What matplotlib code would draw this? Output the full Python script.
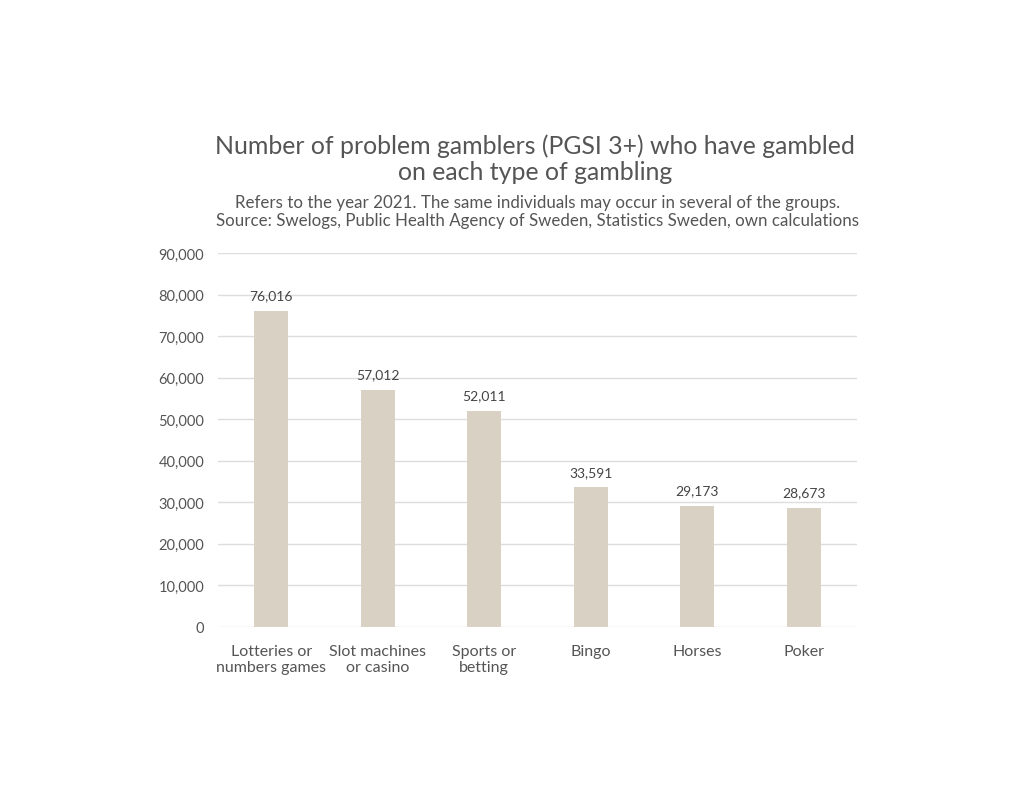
import matplotlib
matplotlib.use("Agg")
import matplotlib.pyplot as plt
from matplotlib.ticker import FuncFormatter

categories = ["Lotteries or\nnumbers games", "Slot machines\nor casino", "Sports or\nbetting",
              "Bingo", "Horses", "Poker"]
values = [76016, 57012, 52011, 33591, 29173, 28673]
yticks = [0, 10000, 20000, 30000, 40000, 50000, 60000, 70000, 80000, 90000]

title = "Number of problem gamblers (PGSI 3+) who have gambled\non each type of gambling"
subtitle = ("Refers to the year 2021. The same individuals may occur in several of the groups.\n"
            "Source: Swelogs, Public Health Agency of Sweden, Statistics Sweden, own calculations")

plt.rcParams['font.family'] = ['Lato', 'DejaVu Sans']
txt = "#555555"

fig = plt.figure(figsize=(10.24, 8.04), dpi=100)
ax = fig.add_axes([218/1024, 1-628/804, (857-218)/1024, (628-254)/804])

x = list(range(len(categories)))
ax.bar(x, values, width=0.32, color="#d9d1c4", zorder=3)
for xi, v in zip(x, values):
    ax.annotate(f"{v:,}", (xi, v), xytext=(0, 7), textcoords="offset points",
                ha="center", va="bottom", fontsize=10, color="#444444")

ax.set_xlim(-0.5, len(categories) - 0.5)
ax.set_ylim(0, 90000)
ax.set_yticks(yticks)
ax.yaxis.set_major_formatter(FuncFormatter(lambda v, p: f"{int(v):,}"))
ax.set_xticks(x)
ax.set_xticklabels(categories, linespacing=1.2)
ax.grid(axis="y", color="#dddddd", linewidth=1, zorder=0)
for s in ax.spines.values():
    s.set_visible(False)
ax.tick_params(axis="both", length=0, labelcolor=txt)
ax.tick_params(axis="y", pad=10, labelsize=10.5)
ax.tick_params(axis="x", pad=12, labelsize=11.5)

fig.text(535/1024, 1-159/804, title, ha="center", va="center", fontsize=17.9, color=txt,
         linespacing=1.17)
fig.text(538/1024, 1-212/804, subtitle, ha="center", va="center", fontsize=12.2, color=txt,
         linespacing=1.2)

fig.savefig("out.png", dpi=100, facecolor="white")
